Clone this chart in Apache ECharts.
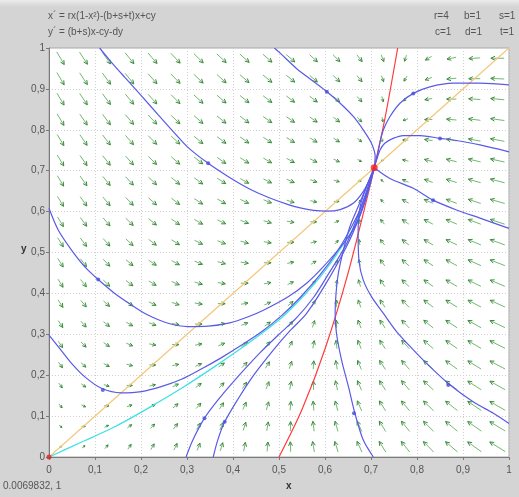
<!DOCTYPE html>
<html><head><meta charset="utf-8">
<script src="https://cdn.jsdelivr.net/npm/echarts@6/dist/echarts.min.js"></script>
<style>html,body{margin:0;padding:0;background:#d4d4d4;}#c{width:519px;height:497px;}</style>
</head><body><div id="c"></div>
<script>
// ---- Text ----
var eqLine1 = 'x´ = rx(1-x²)-(b+s+t)x+cy';
var eqLine2 = 'y´ = (b+s)x-cy-dy';
var paramsRow1 = ['r=4', 'b=1', 's=1'];
var paramsRow2 = ['c=1', 'd=1', 't=1'];
var cursorText = '0.0069832, 1';
var tickLabels = ['0', '0,1', '0,2', '0,3', '0,4', '0,5', '0,6', '0,7', '0,8', '0,9', '1'];

// ---- Direction field (20 x 20 grid, rows from bottom y=0.025 to top y=0.975) ----
var fieldX = [0.025,0.075,0.125,0.175,0.225,0.275,0.325,0.375,0.425,0.475,0.525,0.575,0.625,0.675,0.725,0.775,0.825,0.875,0.925,0.975];
var fieldY = [0.025,0.075,0.125,0.175,0.225,0.275,0.325,0.375,0.425,0.475,0.525,0.575,0.625,0.675,0.725,0.775,0.825,0.875,0.925,0.975];
var fieldU = [
[0.05,0.098,0.142,0.179,0.204,0.217,0.213,0.189,0.143,0.071,-0.029,-0.16,-0.327,-0.53,-0.774,-1.062,-1.396,-1.78,-2.216,-2.707],
[0.1,0.148,0.192,0.229,0.254,0.267,0.263,0.239,0.193,0.121,0.021,-0.11,-0.277,-0.48,-0.724,-1.012,-1.346,-1.73,-2.166,-2.657],
[0.15,0.198,0.242,0.279,0.304,0.317,0.313,0.289,0.243,0.171,0.071,-0.06,-0.227,-0.43,-0.674,-0.962,-1.296,-1.68,-2.116,-2.607],
[0.2,0.248,0.292,0.329,0.354,0.367,0.363,0.339,0.293,0.221,0.121,-0.01,-0.177,-0.38,-0.624,-0.912,-1.246,-1.63,-2.066,-2.557],
[0.25,0.298,0.342,0.379,0.404,0.417,0.413,0.389,0.343,0.271,0.171,0.04,-0.127,-0.33,-0.574,-0.862,-1.196,-1.58,-2.016,-2.507],
[0.3,0.348,0.392,0.429,0.454,0.467,0.463,0.439,0.393,0.321,0.221,0.09,-0.077,-0.28,-0.524,-0.812,-1.146,-1.53,-1.966,-2.457],
[0.35,0.398,0.442,0.479,0.504,0.517,0.513,0.489,0.443,0.371,0.271,0.14,-0.027,-0.23,-0.474,-0.762,-1.096,-1.48,-1.916,-2.407],
[0.4,0.448,0.492,0.529,0.554,0.567,0.563,0.539,0.493,0.421,0.321,0.19,0.023,-0.18,-0.424,-0.712,-1.046,-1.43,-1.866,-2.357],
[0.45,0.498,0.542,0.579,0.604,0.617,0.613,0.589,0.543,0.471,0.371,0.24,0.073,-0.13,-0.374,-0.662,-0.996,-1.38,-1.816,-2.307],
[0.5,0.548,0.592,0.629,0.654,0.667,0.663,0.639,0.593,0.521,0.421,0.29,0.123,-0.08,-0.324,-0.612,-0.946,-1.33,-1.766,-2.257],
[0.55,0.598,0.642,0.679,0.704,0.717,0.713,0.689,0.643,0.571,0.471,0.34,0.173,-0.03,-0.274,-0.562,-0.896,-1.28,-1.716,-2.207],
[0.6,0.648,0.692,0.729,0.754,0.767,0.763,0.739,0.693,0.621,0.521,0.39,0.223,0.02,-0.224,-0.512,-0.846,-1.23,-1.666,-2.157],
[0.65,0.698,0.742,0.779,0.804,0.817,0.813,0.789,0.743,0.671,0.571,0.44,0.273,0.07,-0.174,-0.462,-0.796,-1.18,-1.616,-2.107],
[0.7,0.748,0.792,0.829,0.854,0.867,0.863,0.839,0.793,0.721,0.621,0.49,0.323,0.12,-0.124,-0.412,-0.746,-1.13,-1.566,-2.057],
[0.75,0.798,0.842,0.879,0.904,0.917,0.913,0.889,0.843,0.771,0.671,0.54,0.373,0.17,-0.074,-0.362,-0.696,-1.08,-1.516,-2.007],
[0.8,0.848,0.892,0.929,0.954,0.967,0.963,0.939,0.893,0.821,0.721,0.59,0.423,0.22,-0.024,-0.312,-0.646,-1.03,-1.466,-1.957],
[0.85,0.898,0.942,0.979,1.004,1.017,1.013,0.989,0.943,0.871,0.771,0.64,0.473,0.27,0.026,-0.262,-0.596,-0.98,-1.416,-1.907],
[0.9,0.948,0.992,1.029,1.054,1.067,1.063,1.039,0.993,0.921,0.821,0.69,0.523,0.32,0.076,-0.212,-0.546,-0.93,-1.366,-1.857],
[0.95,0.998,1.042,1.079,1.104,1.117,1.113,1.089,1.043,0.971,0.871,0.74,0.573,0.37,0.126,-0.162,-0.496,-0.88,-1.316,-1.807],
[1.0,1.048,1.092,1.129,1.154,1.167,1.163,1.139,1.093,1.021,0.921,0.79,0.623,0.42,0.176,-0.112,-0.446,-0.83,-1.266,-1.757]
];
var fieldV = [
[0,0.1,0.2,0.3,0.4,0.5,0.6,0.7,0.8,0.9,1,1.1,1.2,1.3,1.4,1.5,1.6,1.7,1.8,1.9],
[-0.1,0,0.1,0.2,0.3,0.4,0.5,0.6,0.7,0.8,0.9,1,1.1,1.2,1.3,1.4,1.5,1.6,1.7,1.8],
[-0.2,-0.1,0,0.1,0.2,0.3,0.4,0.5,0.6,0.7,0.8,0.9,1,1.1,1.2,1.3,1.4,1.5,1.6,1.7],
[-0.3,-0.2,-0.1,0,0.1,0.2,0.3,0.4,0.5,0.6,0.7,0.8,0.9,1,1.1,1.2,1.3,1.4,1.5,1.6],
[-0.4,-0.3,-0.2,-0.1,0,0.1,0.2,0.3,0.4,0.5,0.6,0.7,0.8,0.9,1,1.1,1.2,1.3,1.4,1.5],
[-0.5,-0.4,-0.3,-0.2,-0.1,0,0.1,0.2,0.3,0.4,0.5,0.6,0.7,0.8,0.9,1,1.1,1.2,1.3,1.4],
[-0.6,-0.5,-0.4,-0.3,-0.2,-0.1,0,0.1,0.2,0.3,0.4,0.5,0.6,0.7,0.8,0.9,1,1.1,1.2,1.3],
[-0.7,-0.6,-0.5,-0.4,-0.3,-0.2,-0.1,0,0.1,0.2,0.3,0.4,0.5,0.6,0.7,0.8,0.9,1,1.1,1.2],
[-0.8,-0.7,-0.6,-0.5,-0.4,-0.3,-0.2,-0.1,0,0.1,0.2,0.3,0.4,0.5,0.6,0.7,0.8,0.9,1,1.1],
[-0.9,-0.8,-0.7,-0.6,-0.5,-0.4,-0.3,-0.2,-0.1,0,0.1,0.2,0.3,0.4,0.5,0.6,0.7,0.8,0.9,1],
[-1,-0.9,-0.8,-0.7,-0.6,-0.5,-0.4,-0.3,-0.2,-0.1,0,0.1,0.2,0.3,0.4,0.5,0.6,0.7,0.8,0.9],
[-1.1,-1,-0.9,-0.8,-0.7,-0.6,-0.5,-0.4,-0.3,-0.2,-0.1,0,0.1,0.2,0.3,0.4,0.5,0.6,0.7,0.8],
[-1.2,-1.1,-1,-0.9,-0.8,-0.7,-0.6,-0.5,-0.4,-0.3,-0.2,-0.1,0,0.1,0.2,0.3,0.4,0.5,0.6,0.7],
[-1.3,-1.2,-1.1,-1,-0.9,-0.8,-0.7,-0.6,-0.5,-0.4,-0.3,-0.2,-0.1,0,0.1,0.2,0.3,0.4,0.5,0.6],
[-1.4,-1.3,-1.2,-1.1,-1,-0.9,-0.8,-0.7,-0.6,-0.5,-0.4,-0.3,-0.2,-0.1,0,0.1,0.2,0.3,0.4,0.5],
[-1.5,-1.4,-1.3,-1.2,-1.1,-1,-0.9,-0.8,-0.7,-0.6,-0.5,-0.4,-0.3,-0.2,-0.1,0,0.1,0.2,0.3,0.4],
[-1.6,-1.5,-1.4,-1.3,-1.2,-1.1,-1,-0.9,-0.8,-0.7,-0.6,-0.5,-0.4,-0.3,-0.2,-0.1,0,0.1,0.2,0.3],
[-1.7,-1.6,-1.5,-1.4,-1.3,-1.2,-1.1,-1,-0.9,-0.8,-0.7,-0.6,-0.5,-0.4,-0.3,-0.2,-0.1,0,0.1,0.2],
[-1.8,-1.7,-1.6,-1.5,-1.4,-1.3,-1.2,-1.1,-1,-0.9,-0.8,-0.7,-0.6,-0.5,-0.4,-0.3,-0.2,-0.1,0,0.1],
[-1.9,-1.8,-1.7,-1.6,-1.5,-1.4,-1.3,-1.2,-1.1,-1,-0.9,-0.8,-0.7,-0.6,-0.5,-0.4,-0.3,-0.2,-0.1,0]
];

// ---- Nullclines ----
var diagX = [0, 1];
var diagY = [0, 1];
var redX = [0.5, 0.55, 0.6, 0.65, 0.7, 0.707, 0.73, 0.758];
var redY = [0, 0.116, 0.264, 0.449, 0.672, 0.707, 0.826, 1.0];

// ---- Unstable manifold (cyan) ----
var cyanX = [0, 0.070, 0.143, 0.215, 0.288, 0.360, 0.433, 0.505, 0.546, 0.589, 0.625, 0.662, 0.685, 0.707];
var cyanY = [0, 0.036, 0.074, 0.119, 0.168, 0.221, 0.278, 0.340, 0.385, 0.440, 0.495, 0.560, 0.620, 0.707];

// ---- Trajectories (blue) ----
var trajA_x = [0.110,0.132,0.165,0.201,0.237,0.273,0.302,0.346,0.389,0.435,0.476,0.520,0.546,0.575,0.604,0.633,0.662,0.683,0.698,0.707];
var trajA_y = [1.000,0.970,0.928,0.883,0.837,0.792,0.757,0.718,0.686,0.656,0.635,0.617,0.609,0.603,0.601,0.605,0.621,0.649,0.681,0.707];
var trajB_x = [0.490,0.502,0.538,0.575,0.604,0.633,0.662,0.683,0.701,0.709,0.707];
var trajB_y = [1.000,0.988,0.950,0.918,0.893,0.865,0.832,0.800,0.767,0.735,0.707];
var trajC_x = [1.000,0.937,0.879,0.828,0.792,0.763,0.741,0.727,0.720,0.714,0.707];
var trajC_y = [0.910,0.914,0.914,0.905,0.889,0.865,0.832,0.800,0.771,0.738,0.707];
var trajD_x = [1.000,0.937,0.879,0.850,0.807,0.770,0.748,0.730,0.720,0.712,0.707];
var trajD_y = [0.746,0.763,0.775,0.779,0.786,0.786,0.779,0.767,0.751,0.726,0.707];
var trajE_x = [1.000,0.937,0.886,0.835,0.792,0.741,0.707];
var trajE_y = [0.559,0.584,0.604,0.628,0.657,0.681,0.707];
var trajF_x = [1.000,0.966,0.922,0.872,0.828,0.792,0.756,0.727,0.701,0.683,0.674,0.672,0.676,0.690,0.707];
var trajF_y = [0.082,0.107,0.135,0.176,0.221,0.262,0.306,0.351,0.392,0.433,0.478,0.547,0.610,0.660,0.707];
var trajG_x = [0.705,0.683,0.665,0.651,0.636,0.625,0.622,0.624,0.629,0.640,0.654,0.669,0.690,0.707];
var trajG_y = [0.000,0.042,0.107,0.172,0.237,0.302,0.351,0.400,0.449,0.506,0.563,0.604,0.660,0.707];
var trajH_x = [0.000,0.020,0.049,0.078,0.107,0.143,0.179,0.215,0.259,0.302,0.346,0.393,0.433,0.466,0.520,0.560,0.596,0.640,0.669,0.690,0.707];
var trajH_y = [0.608,0.555,0.506,0.465,0.434,0.400,0.372,0.347,0.327,0.319,0.320,0.328,0.343,0.359,0.392,0.425,0.465,0.522,0.571,0.635,0.707];
var trajI_x = [0.000,0.020,0.049,0.078,0.114,0.157,0.201,0.244,0.288,0.331,0.375,0.418,0.462,0.505,0.546,0.589,0.625,0.654,0.682,0.707];
var trajI_y = [0.298,0.270,0.229,0.196,0.168,0.157,0.160,0.172,0.190,0.215,0.243,0.273,0.306,0.345,0.390,0.445,0.500,0.555,0.620,0.707];
var trajJ_x = [0.298,0.312,0.338,0.367,0.404,0.459,0.500,0.538,0.575,0.604,0.647,0.676,0.707];
var trajJ_y = [0.000,0.040,0.095,0.139,0.188,0.255,0.300,0.340,0.390,0.441,0.522,0.604,0.707];
var trajK_x = [0.357,0.367,0.382,0.410,0.445,0.488,0.525,0.560,0.611,0.654,0.683,0.707];
var trajK_y = [0.000,0.042,0.086,0.140,0.200,0.262,0.310,0.351,0.441,0.531,0.615,0.707];

// ---- Markers ----
var dotX = [0.346, 0.604, 0.792, 0.850, 0.835, 0.868, 0.663, 0.107, 0.117, 0.338, 0.382];
var dotY = [0.718, 0.893, 0.889, 0.779, 0.628, 0.176, 0.107, 0.434, 0.164, 0.095, 0.086];
var equilX = [0.707];
var equilY = [0.707];
var originX = [0];
var originY = [0];

// ---------------------------------------------------------------
function pairs(xs, ys) { return xs.map(function (x, i) { return [x, ys[i]]; }); }

var fieldData = [];
fieldY.forEach(function (y, j) {
  fieldX.forEach(function (x, i) { fieldData.push([x, y, fieldU[j][i], fieldV[j][i]]); });
});

var FONT = '"Liberation Sans", Arial, sans-serif';
var BLUE = '#5a5ae6';

function blueLine(xs, ys) {
  return { type: 'line', data: pairs(xs, ys), smooth: 0.3, showSymbol: false, silent: true,
    lineStyle: { color: BLUE, width: 1.2 }, z: 5 };
}

var chart = echarts.init(document.getElementById('c'), null, { renderer: 'canvas' });

var axisCommon = {
  type: 'value', min: 0, max: 1, interval: 0.1,
  axisLine: { show: true, onZero: false, lineStyle: { color: '#7a7a7a', width: 1 } },
  axisTick: { show: true, length: 3, lineStyle: { color: '#7a7a7a' } },
  splitLine: { show: true, lineStyle: { color: '#cfcfcf', type: [1, 2], width: 1 } },
  axisLabel: { color: '#555', fontFamily: FONT, fontSize: 10,
    formatter: function (v) { return tickLabels[Math.round(v * 10)]; } }
};

function txt(x, y, s, bold, col) {
  return { type: 'text', x: x, y: y, style: { text: s, font: (bold ? 'bold ' : '') + '10px ' + FONT,
    fill: col || '#555', verticalAlign: 'middle' } };
}

var option = {
  backgroundColor: '#d4d4d4',
  animation: false,
  grid: { left: 49, right: 10, top: 48, bottom: 40, show: true, backgroundColor: '#ffffff',
    borderColor: '#a8a8a8', borderWidth: 1 },
  xAxis: Object.assign({}, axisCommon, { axisLabel: Object.assign({}, axisCommon.axisLabel, { margin: 8 }) }),
  yAxis: Object.assign({}, axisCommon, { axisLabel: Object.assign({}, axisCommon.axisLabel, { margin: 4 }) }),
  graphic: [
    { type: 'rect', shape: { x: 0, y: 0, width: 519, height: 7 }, silent: true,
      style: { fill: new echarts.graphic.LinearGradient(0, 0, 0, 1, [{ offset: 0, color: '#ececec' }, { offset: 1, color: '#d4d4d4' }]) } },
    txt(48, 16, eqLine1), txt(48, 32, eqLine2),
    txt(434, 16, paramsRow1[0]), txt(464, 16, paramsRow1[1]), txt(499, 16, paramsRow1[2]),
    txt(435, 32, paramsRow2[0]), txt(465, 32, paramsRow2[1]), txt(500, 32, paramsRow2[2]),
    txt(21, 249, 'y', true, '#333'),
    txt(286, 486, 'x', true, '#333'),
    txt(3, 486, cursorText)
  ],
  series: [
    {
      type: 'custom', data: fieldData, silent: true, z: 2, clip: true,
      renderItem: function (params, api) {
        var x = api.value(0), y = api.value(1), u = api.value(2), v = api.value(3);
        var c = api.coord([x, y]);
        var s = api.size([1, 1]);
        var dx = u * s[0], dy = -v * s[1];
        var n = Math.sqrt(dx * dx + dy * dy) || 1;
        var ux = dx / n, uy = dy / n;
        var L = 10 * Math.sqrt(Math.sqrt(u * u + v * v));
        var x0 = c[0] - ux * L / 2, y0 = c[1] - uy * L / 2;
        var x1 = c[0] + ux * L / 2, y1 = c[1] + uy * L / 2;
        var h = Math.min(4.5, L * 0.55), a = 0.45;
        var ca = Math.cos(a), sa = Math.sin(a);
        var lx = x1 - h * (ux * ca - uy * sa), ly = y1 - h * (uy * ca + ux * sa);
        var rx = x1 - h * (ux * ca + uy * sa), ry = y1 - h * (uy * ca - ux * sa);
        return { type: 'group', children: [
          { type: 'line', shape: { x1: x0, y1: y0, x2: x1, y2: y1 }, style: { stroke: '#72b872', lineWidth: 1 } },
          { type: 'polyline', shape: { points: [[lx, ly], [x1, y1], [rx, ry]] }, style: { stroke: '#3a8a3a', lineWidth: 1, fill: null } }
        ] };
      }
    },
    { type: 'line', data: pairs(diagX, diagY), showSymbol: false, silent: true, lineStyle: { color: '#f4c77a', width: 1.2 }, z: 3 },
    { type: 'line', data: pairs(redX, redY), smooth: 0.3, showSymbol: false, silent: true, lineStyle: { color: '#ff3b3b', width: 1.2 }, z: 4 },
    { type: 'line', data: pairs(cyanX, cyanY), smooth: 0.3, showSymbol: false, silent: true, lineStyle: { color: '#3fe0e6', width: 1.3 }, z: 4 },
    blueLine(trajA_x, trajA_y), blueLine(trajB_x, trajB_y), blueLine(trajC_x, trajC_y),
    blueLine(trajD_x, trajD_y), blueLine(trajE_x, trajE_y), blueLine(trajF_x, trajF_y),
    blueLine(trajG_x, trajG_y), blueLine(trajH_x, trajH_y), blueLine(trajI_x, trajI_y),
    blueLine(trajJ_x, trajJ_y), blueLine(trajK_x, trajK_y),
    { type: 'scatter', data: pairs(dotX, dotY), symbolSize: 4, silent: true, itemStyle: { color: '#4a4ae0' }, z: 6 },
    { type: 'scatter', data: pairs(equilX, equilY), symbolSize: 7, silent: true, itemStyle: { color: '#ff1a1a' }, z: 7 },
    { type: 'scatter', data: pairs(originX, originY), symbolSize: 5, silent: true, clip: false, itemStyle: { color: '#e02020' }, z: 7 }
  ]
};
chart.setOption(option);
</script>
</body></html>
